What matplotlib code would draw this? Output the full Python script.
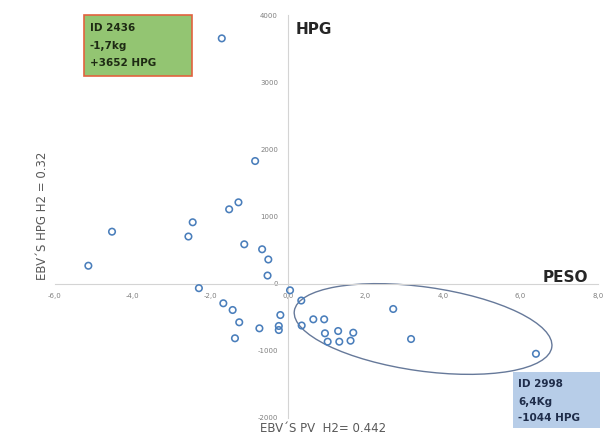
import matplotlib
matplotlib.use("Agg")
import matplotlib.pyplot as plt
from matplotlib.patches import Ellipse, Rectangle
import matplotlib.transforms as mtransforms

# ---- data (EBV peso vivo vs EBV HPG) ----
ebv_pv = [-1.7, -0.84, -1.27, -1.51, -2.45, -2.56, -4.53, -5.14, -1.12, -0.66,
          -0.50, -0.52, -2.29, -1.66, -1.42, -1.25, -1.36, -0.73, -0.19, -0.23,
          -0.23, 0.06, 0.35, 0.36, 0.66, 0.94, 0.96, 1.30, 1.69, 1.03,
          1.33, 1.62, 2.72, 3.18, 6.4]
ebv_hpg = [3652, 1826, 1211, 1107, 914, 702, 774, 267, 586, 512,
           360, 121, -67, -292, -392, -575, -813, -665, -467, -630,
           -690, -99, -251, -623, -531, -531, -739, -705, -730, -864,
           -864, -849, -377, -824, -1044]

x_ticks = [-6, -4, -2, 0, 2, 4, 6, 8]
x_tick_labels = ["-6,0", "-4,0", "-2,0", "0,0", "2,0", "4,0", "6,0", "8,0"]
y_ticks = [-2000, -1000, 0, 1000, 2000, 3000, 4000]
y_tick_labels = ["-2000", "-1000", "0", "1000", "2000", "3000", "4000"]

box_top_lines = ["ID 2436", "-1,7kg", "+3652 HPG"]
box_bottom_lines = ["ID 2998", "6,4Kg", "-1044 HPG"]

W, H = 607, 437
fig = plt.figure(figsize=(W / 100, H / 100), dpi=100)
fig.patch.set_facecolor("white")

def fx(px):
    return px / W

def fy(py):
    return 1 - py / H

ax = fig.add_axes([fx(55), fy(418), (598 - 55) / W, (418 - 15) / H])
ax.set_facecolor("none")
ax.scatter(ebv_pv, ebv_hpg, s=22, facecolors="none", edgecolors="#4a7ebb",
           linewidths=1.15, zorder=3)
ax.set_xlim(-6, 8)
ax.set_ylim(-2000, 4000)

ax.spines["left"].set_position(("data", 0))
ax.spines["bottom"].set_position(("data", 0))
for s in ["top", "right"]:
    ax.spines[s].set_visible(False)
for s in ["left", "bottom"]:
    ax.spines[s].set_color("#d4d4d4")
    ax.spines[s].set_linewidth(0.8)

ax.set_xticks(x_ticks)
ax.set_xticklabels(x_tick_labels)
ax.set_yticks(y_ticks)
ax.set_yticklabels(y_tick_labels)
ax.tick_params(axis="x", length=0, pad=7, labelsize=5, labelcolor="#7f7f7f")
ax.tick_params(axis="y", length=0, pad=7, labelsize=5, labelcolor="#7f7f7f")

# ellipse around the positive-weight group
t = fig.dpi_scale_trans + mtransforms.ScaledTranslation(3.49, -675, ax.transData)
ell = Ellipse((0, 0), width=2.6, height=0.84, angle=-8, transform=t,
              facecolor="none", edgecolor="#66799a", linewidth=1.0, zorder=2)
ax.add_artist(ell)

# axis titles
fig.text(fx(43), fy(216), "EBV´S HPG H2 = 0.32", rotation=90, ha="center",
         va="center", fontsize=8.5, color="#595959")
fig.text(fx(323), fy(428), "EBV´S PV  H2= 0.442", ha="center", va="center",
         fontsize=8.5, color="#595959")

fig.text(fx(296), fy(30), "HPG", ha="left", va="center", fontsize=11,
         fontweight="bold", color="#262626")
fig.text(fx(565), fy(277), "PESO", ha="center", va="center", fontsize=11,
         fontweight="bold", color="#262626")

# green box
fig.add_artist(Rectangle((fx(84), fy(76)), 108 / W, 61 / H,
                         transform=fig.transFigure, facecolor="#93c572",
                         edgecolor="#e2623f", linewidth=1.2))
for line, py in zip(box_top_lines, [28, 46, 63]):
    fig.text(fx(90), fy(py), line, ha="left", va="center", fontsize=7.5,
             fontweight="bold", color="#1e2a14")

# blue box
fig.add_artist(Rectangle((fx(513), fy(428)), 87 / W, 56 / H,
                         transform=fig.transFigure, facecolor="#b7cde8",
                         edgecolor="none"))
for line, py in zip(box_bottom_lines, [384, 402, 418]):
    fig.text(fx(518), fy(py), line, ha="left", va="center", fontsize=7.5,
             fontweight="bold", color="#1f2d4a")

fig.savefig("out.png", dpi=100)
